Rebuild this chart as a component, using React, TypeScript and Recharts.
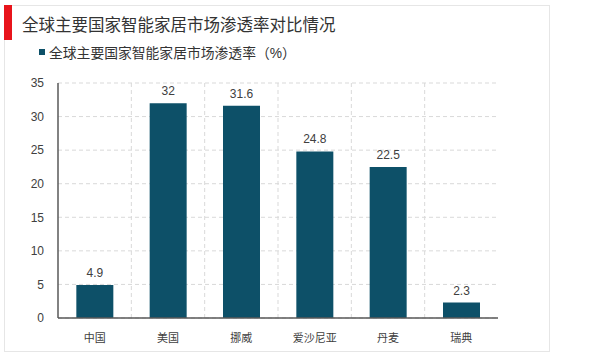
import React from "react";
import { BarChart, Bar, XAxis, YAxis, CartesianGrid, LabelList } from "recharts";

const countries = ["中国", "美国", "挪威", "爱沙尼亚", "丹麦", "瑞典"];
const penetration = [4.9, 32, 31.6, 24.8, 22.5, 2.3];
const yTicks = [0, 5, 10, 15, 20, 25, 30, 35];

const TITLE = "全球主要国家智能家居市场渗透率对比情况";
const SERIES_NAME = "全球主要国家智能家居市场渗透率（%）";
const BAR_COLOR = "#0D5068";
const FONT = "'Liberation Sans', 'Noto Sans CJK SC', sans-serif";

const data = countries.map((name, i) => ({ name, value: penetration[i] }));

const App: React.FC = () => {
  return (
    <div
      style={{
        position: "absolute",
        left: 0,
        top: 0,
        width: 600,
        height: 355,
        background: "#fff",
        fontFamily: FONT,
        overflow: "hidden",
      }}
    >
      {/* frame */}
      <div
        style={{
          position: "absolute",
          left: 4,
          top: 5,
          width: 546,
          height: 347,
          border: "1px solid #e6e6e6",
          boxSizing: "border-box",
        }}
      />
      <div style={{ position: "absolute", left: 4, top: 5, width: 8, height: 35, background: "#e8141b" }} />
      <div
        style={{
          position: "absolute",
          left: 22,
          top: 13,
          fontSize: 16.5,
          lineHeight: "24px",
          color: "#333",
          whiteSpace: "nowrap",
        }}
      >
        {TITLE}
      </div>

      {/* legend */}
      <div style={{ position: "absolute", left: 39, top: 42, height: 20, display: "flex", alignItems: "center" }}>
        <span style={{ width: 6, height: 6, background: BAR_COLOR, display: "inline-block", marginRight: 4 }} />
        <span style={{ fontSize: 13.8, color: "#333", whiteSpace: "nowrap" }}>{SERIES_NAME}</span>
      </div>

      <div style={{ position: "absolute", left: 0, top: 0 }}>
        <BarChart
          width={600}
          height={355}
          data={data}
          margin={{ top: 83, right: 102, bottom: 7, left: 0 }}
          barCategoryGap="25%"
        >
          <CartesianGrid
            stroke="#d9d9d9"
            strokeDasharray="4 3"
            verticalCoordinatesGenerator={({ offset }: any) =>
              countries.slice(1).map((_, i) => offset.left + ((i + 1) * offset.width) / countries.length)
            }
          />
          <XAxis
            dataKey="name"
            height={30}
            tickLine={false}
            axisLine={{ stroke: "#595959", strokeWidth: 1.5 }}
            tick={{ fontSize: 11, fill: "#404040", fontFamily: FONT }}
            tickMargin={10}
            interval={0}
          />
          <YAxis
            width={58}
            domain={[0, 35]}
            ticks={yTicks}
            tickLine={false}
            axisLine={{ stroke: "#595959", strokeWidth: 1.5 }}
            tick={{ fontSize: 12, fill: "#404040", fontFamily: FONT }}
            tickMargin={8}
          />
          <Bar dataKey="value" fill={BAR_COLOR} isAnimationActive={false}>
            <LabelList
              dataKey="value"
              position="top"
              offset={8}
              style={{ fontSize: 12, fill: "#404040", fontFamily: FONT }}
            />
          </Bar>
        </BarChart>
      </div>
    </div>
  );
};

export default App;
